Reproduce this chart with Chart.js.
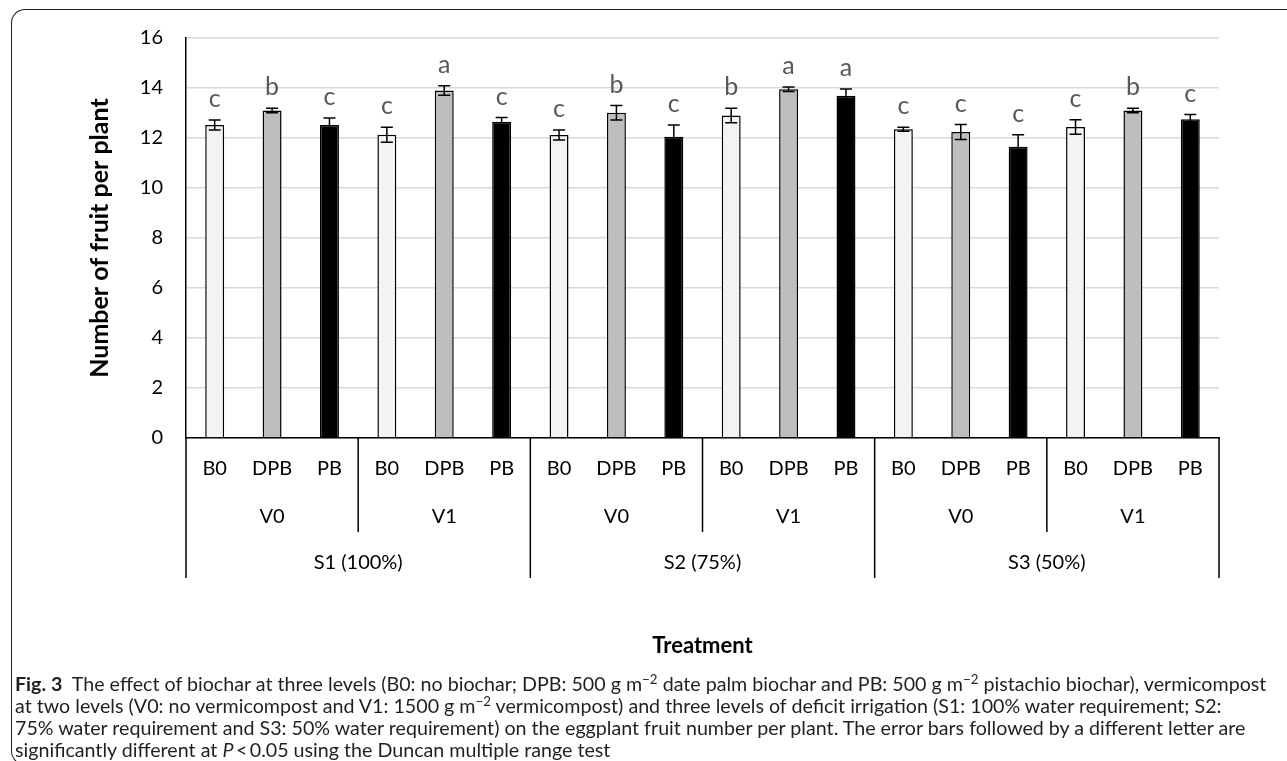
<!DOCTYPE html>
<html>
<head>
<meta charset="utf-8">
<script src="https://cdn.jsdelivr.net/npm/chart.js@4"></script>
<style>
  body { margin: 0; background: #fff; width: 1287px; height: 761px; overflow: hidden; position: relative; font-family: Lato, sans-serif; }
  #frame { position: absolute; left: 11px; top: 9px; width: 1300px; height: 756px; border: 1px solid #231f20; border-right: none; border-radius: 14px 0 0 14px; box-sizing: border-box; }
  #wrap { position: absolute; left: 0; top: 0; width: 1287px; height: 700px; }
  #caption { position: absolute; left: 15px; top: 673px; line-height: 22px; white-space: nowrap; color: #231f20; font-size: 16px; }
  #caption sup { font-size: 0.68em; position: relative; top: -0.5em; vertical-align: baseline; line-height: 0; }
</style>
</head>
<body>
<div id="frame"></div>
<div id="wrap"><canvas id="fruitChart"></canvas></div>
<div id="caption">
  <div id="capLine1"><b>Fig. 3</b>&nbsp; The effect of biochar at three levels (B0: no biochar; DPB: 500 g m<sup>−2</sup> date palm biochar and PB: 500 g m<sup>−2</sup> pistachio biochar), vermicompost</div>
  <div>at two levels (V0: no vermicompost and V1: 1500 g m<sup>−2</sup> vermicompost) and three levels of deficit irrigation (S1: 100% water requirement; S2:</div>
  <div>75% water requirement and S3: 50% water requirement) on the eggplant fruit number per plant. The error bars followed by a different letter are</div>
  <div>significantly different at <i>P</i>&thinsp;&lt;&thinsp;0.05 using the Duncan multiple range test</div>
</div>
<script>
const biochar = ['B0', 'DPB', 'PB'];
const vermi = ['V0', 'V1'];
const irrigation = ['S1 (100%)', 'S2 (75%)', 'S3 (50%)'];

// S1 V0, S1 V1, S2 V0, S2 V1, S3 V0, S3 V1 (B0, DPB, PB each)
const fruitNumber = [12.52, 13.10, 12.52, 12.13, 13.90, 12.65,
                     12.12, 13.01, 12.05, 12.90, 13.95, 13.69,
                     12.35, 12.24, 11.65, 12.44, 13.10, 12.75];
const stdError = [0.20, 0.09, 0.28, 0.30, 0.19, 0.17,
                  0.20, 0.29, 0.47, 0.29, 0.09, 0.27,
                  0.08, 0.30, 0.48, 0.29, 0.09, 0.19];
const letters = ['c', 'b', 'c', 'c', 'a', 'c',
                 'c', 'b', 'c', 'b', 'a', 'a',
                 'c', 'c', 'c', 'c', 'b', 'c'];
const yTicks = [0, 2, 4, 6, 8, 10, 12, 14, 16];

const barColors = ['#f3f4f2', '#bdbebf', '#000000'];

const labels = [];
const colors = [];
irrigation.forEach(s => {
    vermi.forEach(v => {
        biochar.forEach((b, bi) => {
            labels.push([b, v, s]);
            colors.push(barColors[bi]);
        });
    });
});

// error bars and significance letters
const errorBarPlugin = {
    id: 'errorBars',
    afterDatasetsDraw(chart) {
        const ctx = chart.ctx;
        const y = chart.scales.y;
        const bars = chart.getDatasetMeta(0).data;
        ctx.save();
        ctx.strokeStyle = '#000';
        ctx.lineWidth = 1.5;
        bars.forEach((bar, i) => {
            const top = y.getPixelForValue(fruitNumber[i] + stdError[i]);
            const bot = y.getPixelForValue(fruitNumber[i] - stdError[i]);
            ctx.beginPath();
            ctx.moveTo(bar.x, top); ctx.lineTo(bar.x, bot);
            ctx.moveTo(bar.x - 6, top); ctx.lineTo(bar.x + 6, top);
            ctx.moveTo(bar.x - 6, bot); ctx.lineTo(bar.x + 6, bot);
            ctx.stroke();

            ctx.fillStyle = '#595959';
            ctx.font = '25px Lato';
            ctx.textAlign = 'center';
            ctx.textBaseline = 'alphabetic';
            ctx.fillText(letters[i], bar.x, top - 13);
        });
        ctx.restore();
    }
};

// grouped category table under the x axis
const groupAxisPlugin = {
    id: 'groupAxis',
    afterDraw(chart) {
        const ctx = chart.ctx;
        const area = chart.chartArea;
        const xs = chart.scales.x;
        const n = labels.length;
        const w = (area.right - area.left) / n;
        const y0 = area.bottom;
        ctx.save();
        ctx.strokeStyle = '#000';
        ctx.lineWidth = 1.5;
        ctx.beginPath();
        for (let i = 0; i <= n; i++) {
            const x = area.left + i * w;
            if (i % 6 === 0) {
                ctx.moveTo(x, y0); ctx.lineTo(x, y0 + 140);
            } else if (i % 3 === 0) {
                ctx.moveTo(x, y0); ctx.lineTo(x, y0 + 94);
            }
        }
        ctx.stroke();

        ctx.fillStyle = '#000';
        ctx.font = '20px Lato';
        ctx.textAlign = 'center';
        ctx.textBaseline = 'middle';
        labels.forEach((l, i) => {
            ctx.fillText(l[0], xs.getPixelForValue(i), y0 + 31);
        });
        for (let i = 0; i < n; i += 3) {
            const cx = (xs.getPixelForValue(i) + xs.getPixelForValue(i + 2)) / 2;
            ctx.fillText(labels[i][1], cx, y0 + 79);
        }
        for (let i = 0; i < n; i += 6) {
            const cx = (xs.getPixelForValue(i) + xs.getPixelForValue(i + 5)) / 2;
            ctx.fillText(labels[i][2], cx, y0 + 125);
        }
        ctx.restore();
    }
};

const ctx = document.getElementById('fruitChart');
new Chart(ctx, {
    type: 'bar',
    data: {
        labels: labels,
        datasets: [{
            data: fruitNumber,
            backgroundColor: colors,
            borderColor: '#000',
            borderWidth: 1.5,
            borderSkipped: 'start',
            barPercentage: 0.33,
            categoryPercentage: 1.0
        }]
    },
    options: {
        responsive: true,
        maintainAspectRatio: false,
        animation: false,
        layout: { padding: { left: 70, right: 68, top: 38, bottom: 0 } },
        plugins: {
            legend: { display: false },
            tooltip: { enabled: false }
        },
        scales: {
            x: {
                grid: { display: false },
                border: { display: true, color: '#000', width: 1.5 },
                ticks: { display: false },
                title: {
                    display: true,
                    text: 'Treatment',
                    color: '#000',
                    font: { family: 'Lato', size: 22, weight: 'bold' },
                    padding: { top: 0, bottom: 41 }
                },
                afterFit(scale) { scale.height = 262; }
            },
            y: {
                min: 0,
                max: 16,
                afterBuildTicks(scale) { scale.ticks = yTicks.map(v => ({ value: v })); },
                grid: { color: '#d9d9d9', lineWidth: 1.5, drawTicks: false },
                border: { display: true, color: '#000', width: 1.5 },
                ticks: {
                    padding: 23,
                    color: '#000',
                    font: { family: 'Lato', size: 20 }
                },
                title: {
                    display: true,
                    text: 'Number of fruit per plant',
                    color: '#000',
                    font: { family: 'Lato', size: 25, weight: 'bold' },
                    padding: { top: 15, bottom: 0 }
                },
                afterFit(scale) { scale.width = 116; }
            }
        }
    },
    plugins: [errorBarPlugin, groupAxisPlugin]
});

// fit caption width to the reference line length
const cap = document.getElementById('caption');
const line1 = document.getElementById('capLine1');
const target = 1252;
const fs = 16 * target / line1.scrollWidth;
cap.style.fontSize = fs.toFixed(2) + 'px';
</script>
</body>
</html>
